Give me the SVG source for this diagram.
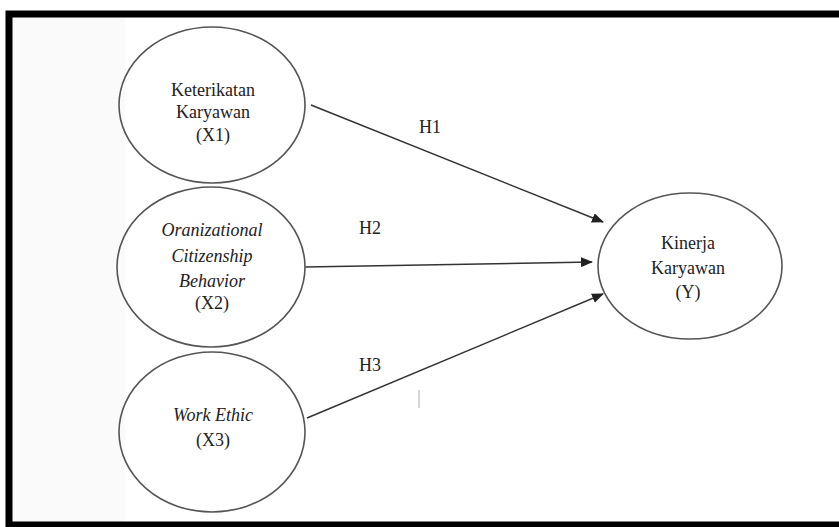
<svg xmlns="http://www.w3.org/2000/svg" width="839" height="527" viewBox="0 0 839 527" font-family="'Liberation Serif', 'Times New Roman', Times, serif">
<style>
.node ellipse{fill:none;stroke:#555;stroke-width:1.6}
text{font-family:'Liberation Serif','Times New Roman',Times,serif;font-size:18px;fill:#222;text-anchor:middle}
.i{font-style:italic}
.conn line{stroke:#333;stroke-width:1.5;marker-end:url(#ah)}
</style>
<defs>
<marker id="ah" markerWidth="12" markerHeight="10" refX="11" refY="5" orient="auto" markerUnits="userSpaceOnUse">
<path d="M0,0 L12,5 L0,10 Z" fill="#222"/>
</marker>
</defs>
<rect x="0" y="0" width="839" height="527" fill="#fff"/>
<rect x="12" y="17" width="113" height="505" fill="#fafafa"/>
<rect x="9" y="14" width="850" height="511" fill="none" stroke="#000" stroke-width="7"/>
<g id="connectors" class="conn">
<line x1="311" y1="105" x2="603" y2="222"/>
<line x1="305" y1="267" x2="592" y2="262"/>
<line x1="307" y1="418" x2="603" y2="294"/>
</g>
<g id="labels">
<text x="430" y="133">H1</text>
<text x="370" y="234">H2</text>
<text x="370" y="371">H3</text>
<line x1="419" y1="390" x2="419" y2="408" stroke="#bbb" stroke-width="1.2"/>
</g>
<g id="x1" class="node">
<ellipse cx="212" cy="105" rx="93" ry="78"/>
<text x="213" y="96">Keterikatan</text>
<text x="213" y="118">Karyawan</text>
<text x="213" y="141">(X1)</text>
</g>
<g id="x2" class="node">
<ellipse cx="211" cy="267" rx="94" ry="80"/>
<text class="i" x="212" y="236">Oranizational</text>
<text class="i" x="212" y="262">Citizenship</text>
<text class="i" x="212" y="287">Behavior</text>
<text x="212" y="309">(X2)</text>
</g>
<g id="x3" class="node">
<ellipse cx="212" cy="432" rx="93" ry="80"/>
<text class="i" x="213" y="421">Work Ethic</text>
<text x="213" y="446">(X3)</text>
</g>
<g id="y" class="node">
<ellipse cx="690" cy="266" rx="92" ry="73"/>
<text x="688" y="249">Kinerja</text>
<text x="688" y="274">Karyawan</text>
<text x="688" y="298">(Y)</text>
</g>
</svg>
